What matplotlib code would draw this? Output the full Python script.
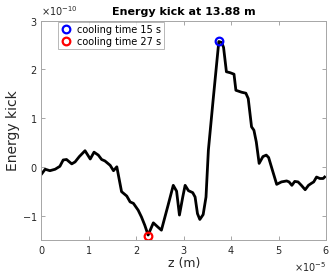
import matplotlib
matplotlib.use("Agg")
import matplotlib.pyplot as plt
import numpy as np

# z in units of 1e-5 m, kick in units of 1e-10
z_vals = [0.01, 0.08, 0.18, 0.29, 0.39, 0.46, 0.53, 0.64, 0.71, 0.80, 0.92, 1.03, 1.11, 1.20,
          1.27, 1.34, 1.45, 1.52, 1.59, 1.69, 1.80, 1.87, 1.94, 2.04, 2.11, 2.18, 2.25, 2.36,
          2.46, 2.53, 2.67, 2.78, 2.85, 2.91, 2.98, 3.03, 3.10, 3.19, 3.24, 3.29, 3.34, 3.41,
          3.47, 3.52, 3.62, 3.74, 3.80, 3.84, 3.90, 3.98, 4.06, 4.10, 4.22, 4.31, 4.36,
          4.43, 4.48, 4.53, 4.59, 4.67, 4.74, 4.79, 4.87, 4.96, 5.06, 5.17, 5.22, 5.28, 5.34,
          5.41, 5.48, 5.56, 5.63, 5.69, 5.74, 5.80, 5.87, 5.94, 5.97]
kick_vals = [-0.14, -0.05, -0.08, -0.05, 0.01, 0.14, 0.15, 0.06, 0.10, 0.21, 0.33, 0.16, 0.30, 0.24,
             0.15, 0.12, 0.03, -0.08, 0.0, -0.51, -0.60, -0.72, -0.75, -0.89, -1.03, -1.20, -1.40, -1.15,
             -1.24, -1.30, -0.79, -0.38, -0.50, -0.99, -0.62, -0.38, -0.49, -0.53, -0.62, -0.96, -1.08, -0.98,
             -0.62, 0.34, 1.37, 2.57, 2.55, 2.45, 1.95, 1.93, 1.90, 1.57, 1.53, 1.51, 1.40,
             0.82, 0.75, 0.51, 0.07, 0.21, 0.24, 0.19, -0.07, -0.36, -0.31, -0.29, -0.31, -0.38, -0.30,
             -0.31, -0.38, -0.47, -0.38, -0.34, -0.31, -0.21, -0.24, -0.24, -0.21]

marker_z = [3.75, 2.25]
marker_kick = [2.58, -1.42]
marker_labels = ["cooling time 15 s", "cooling time 27 s"]
marker_colors = ["blue", "red"]

z = np.array(z_vals) * 1e-5
kick = np.array(kick_vals) * 1e-10

fig = plt.figure(figsize=(3.31, 2.78), dpi=100)
ax = fig.add_axes([0.125, 0.137, 0.86, 0.789])

ax.plot(z, kick, color="black", linewidth=2.0)
for mz, mk, lab, c in zip(marker_z, marker_kick, marker_labels, marker_colors):
    ax.plot([mz * 1e-5], [mk * 1e-10], linestyle="none", marker="o", markersize=5.5,
            markerfacecolor="none", markeredgecolor=c, markeredgewidth=1.6, label=lab)

ax.set_xlim(0, 6e-5)
ax.set_ylim(-1.5e-10, 3e-10)
ax.set_xticks(np.arange(0, 7) * 1e-5)
ax.set_yticks(np.arange(-1, 4) * 1e-10)
ax.ticklabel_format(style="sci", scilimits=(0, 0), useMathText=True)

grey = "#a6a6a6"
txt = "#262626"
for s in ax.spines.values():
    s.set_color(grey)
    s.set_linewidth(0.7)
ax.tick_params(direction="in", top=True, right=True, length=3, width=0.7, color=grey,
               labelsize=7, labelcolor=txt, pad=3)
ax.xaxis.get_offset_text().set_fontsize(7)
ax.yaxis.get_offset_text().set_fontsize(7)
ax.xaxis.get_offset_text().set_color(txt)
ax.yaxis.get_offset_text().set_color(txt)

ax.set_xlabel("z (m)", fontsize=9, color=txt, labelpad=1)
ax.set_ylabel("Energy kick", fontsize=10, color=txt, labelpad=1)
ax.set_title("Energy kick at 13.88 m", fontsize=8, fontweight="bold", color="black", pad=4)

leg = ax.legend(loc="upper left", bbox_to_anchor=(0.06, 0.995), fontsize=7, frameon=True,
                fancybox=False, edgecolor=grey, handlelength=1.0, handletextpad=0.6,
                borderpad=0.3, labelspacing=0.2, borderaxespad=0.0)
leg.get_frame().set_linewidth(0.7)

fig.savefig("out.png", dpi=100)
